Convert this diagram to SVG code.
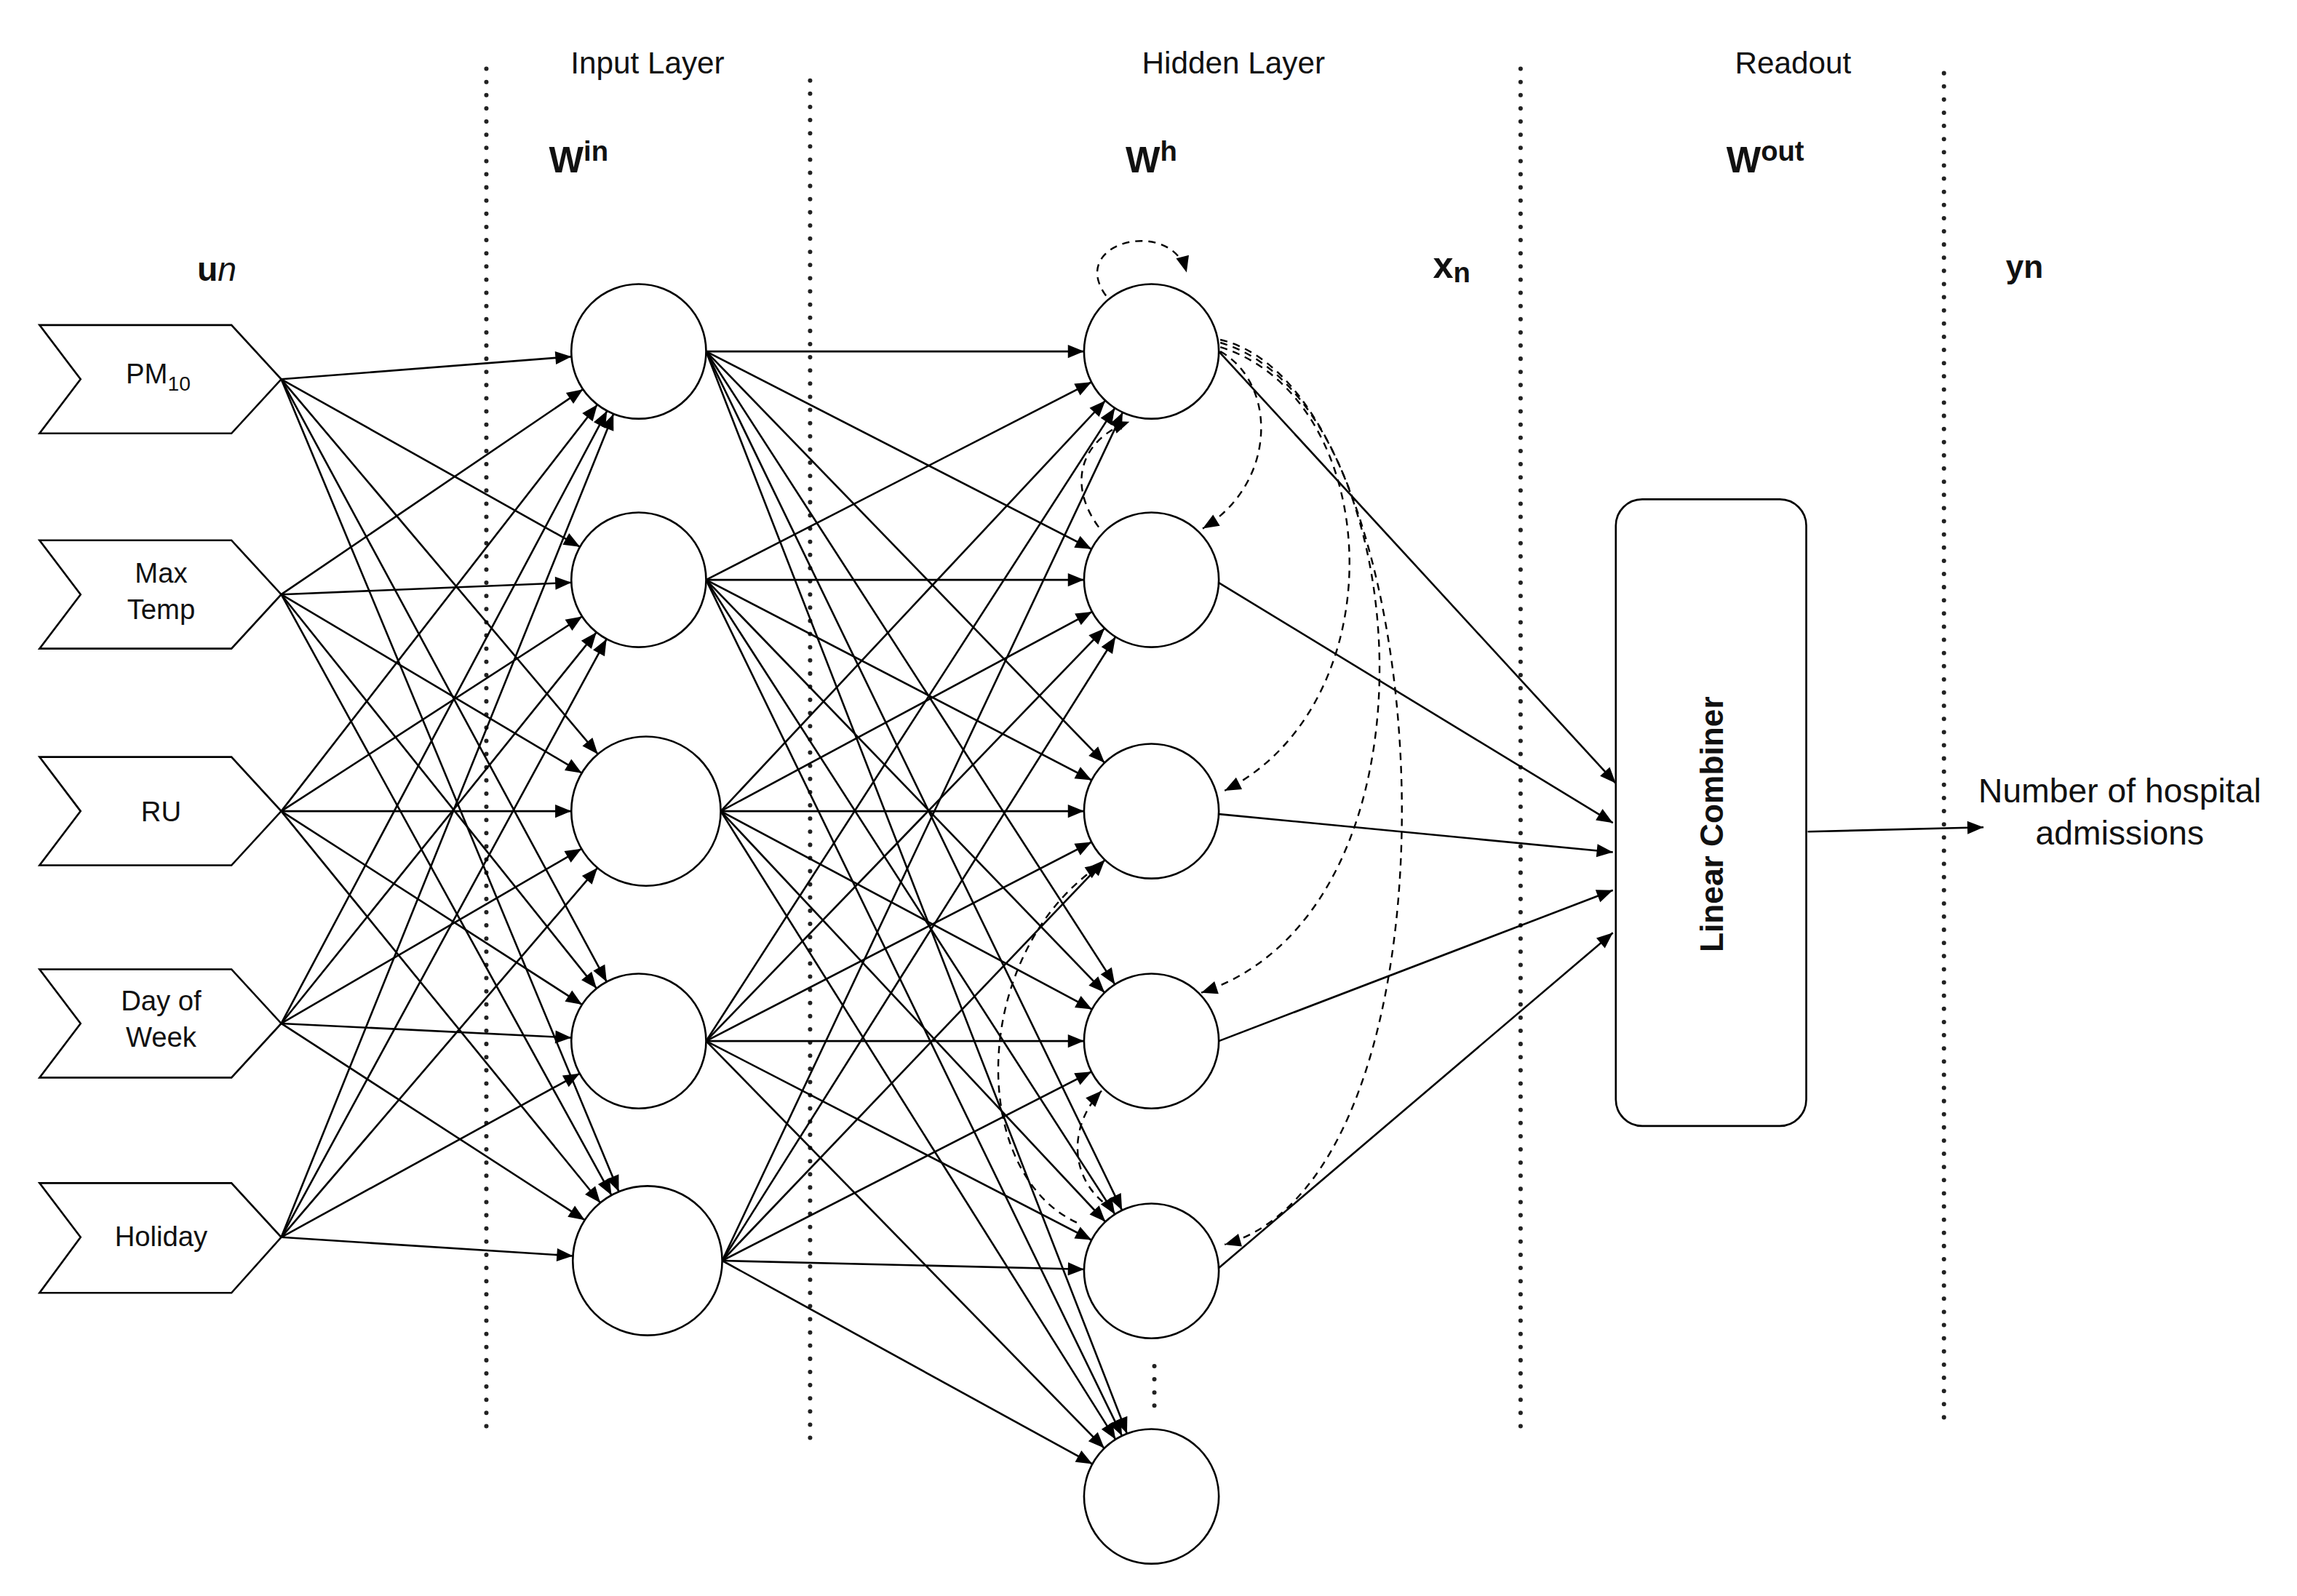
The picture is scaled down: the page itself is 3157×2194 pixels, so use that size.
<svg xmlns="http://www.w3.org/2000/svg" width="3157" height="2194" viewBox="0 0 3157 2194">
<defs>
<style>
.c{stroke:#000;stroke-width:1.3;fill:none}
.d{stroke:#000;stroke-width:1.2;fill:none;stroke-dasharray:5 4}
.v{stroke:#222;stroke-width:3;fill:none;stroke-dasharray:0 9;stroke-linecap:round}
.n{fill:#fff;stroke:#000;stroke-width:1.3}
.t{font-family:"Liberation Sans",Arial,sans-serif;fill:#111;text-anchor:middle}
.l .c{marker-end:url(#a46)}
.m .c{marker-end:url(#a51)}
</style>
<marker id="a46" markerUnits="userSpaceOnUse" overflow="visible" orient="auto" markerWidth="1" markerHeight="1" refX="0" refY="0"><path d="M-57,-4.5 L-46,0 L-57,4.5 Z" fill="#000"/></marker>
<marker id="a51" markerUnits="userSpaceOnUse" overflow="visible" orient="auto" markerWidth="1" markerHeight="1" refX="0" refY="0"><path d="M-62,-4.5 L-51,0 L-62,4.5 Z" fill="#000"/></marker>
<marker id="a0" markerUnits="userSpaceOnUse" overflow="visible" orient="auto" markerWidth="1" markerHeight="1" refX="0" refY="0"><path d="M-11,-4.5 L0,0 L-11,4.5 Z" fill="#000"/></marker>
</defs>
<rect width="3157" height="2194" fill="#fff"/>
<g transform="scale(2.0134,2.0128)">
<g id="separators">
<line class="v" x1="332" y1="47" x2="332" y2="975"/>
<line class="v" x1="553" y1="55" x2="553" y2="985"/>
<line class="v" x1="1038" y1="47" x2="1038" y2="975"/>
<line class="v" x1="1327" y1="50" x2="1327" y2="975"/>
<line class="v" x1="788" y1="933" x2="788" y2="966"/>
</g>
<g id="labels">
<text class="t" x="442" y="50" font-size="21">Input Layer</text>
<text class="t" x="842" y="50" font-size="21">Hidden Layer</text>
<text class="t" x="1224" y="50" font-size="21">Readout</text>
<text class="t" x="395" y="118" font-size="25" font-weight="bold">W<tspan font-size="19" dy="-8">in</tspan></text>
<text class="t" x="786" y="118" font-size="25" font-weight="bold">W<tspan font-size="19" dy="-8">h</tspan></text>
<text class="t" x="1205" y="118" font-size="25" font-weight="bold">W<tspan font-size="19" dy="-8">out</tspan></text>
<text class="t" x="148" y="192" font-size="23" font-weight="bold">u<tspan font-weight="normal" font-style="italic">n</tspan></text>
<text class="t" x="991" y="190" font-size="25" font-weight="bold">x<tspan font-size="19" dy="3">n</tspan></text>
<text class="t" x="1382" y="190" font-size="22" font-weight="bold">yn</text>
</g>
<g id="connectors">
<g class="l">
<path class="c" d="M192,259 L436,240"/><path class="c" d="M192,259 L436,396"/><path class="c" d="M192,259 L436,711"/>
<path class="c" d="M192,406 L436,240"/><path class="c" d="M192,406 L436,396"/><path class="c" d="M192,406 L436,711"/>
<path class="c" d="M192,554 L436,240"/><path class="c" d="M192,554 L436,396"/><path class="c" d="M192,554 L436,711"/>
<path class="c" d="M192,699 L436,240"/><path class="c" d="M192,699 L436,396"/><path class="c" d="M192,699 L436,711"/>
<path class="c" d="M192,845 L436,240"/><path class="c" d="M192,845 L436,396"/><path class="c" d="M192,845 L436,711"/>
</g>
<g class="m">
<path class="c" d="M192,259 L441,554"/><path class="c" d="M192,259 L442,861"/>
<path class="c" d="M192,406 L441,554"/><path class="c" d="M192,406 L442,861"/>
<path class="c" d="M192,554 L441,554"/><path class="c" d="M192,554 L442,861"/>
<path class="c" d="M192,699 L441,554"/><path class="c" d="M192,699 L442,861"/>
<path class="c" d="M192,845 L441,554"/><path class="c" d="M192,845 L442,861"/>
</g>
<g class="l">
<path class="c" d="M482,240 L786,240"/><path class="c" d="M482,240 L786,396"/><path class="c" d="M482,240 L786,554"/><path class="c" d="M482,240 L786,711"/><path class="c" d="M482,240 L786,868"/><path class="c" d="M482,240 L786,1022"/>
<path class="c" d="M482,396 L786,240"/><path class="c" d="M482,396 L786,396"/><path class="c" d="M482,396 L786,554"/><path class="c" d="M482,396 L786,711"/><path class="c" d="M482,396 L786,868"/><path class="c" d="M482,396 L786,1022"/>
<path class="c" d="M492,554 L786,240"/><path class="c" d="M492,554 L786,396"/><path class="c" d="M492,554 L786,554"/><path class="c" d="M492,554 L786,711"/><path class="c" d="M492,554 L786,868"/><path class="c" d="M492,554 L786,1022"/>
<path class="c" d="M482,711 L786,240"/><path class="c" d="M482,711 L786,396"/><path class="c" d="M482,711 L786,554"/><path class="c" d="M482,711 L786,711"/><path class="c" d="M482,711 L786,868"/><path class="c" d="M482,711 L786,1022"/>
<path class="c" d="M493,861 L786,240"/><path class="c" d="M493,861 L786,396"/><path class="c" d="M493,861 L786,554"/><path class="c" d="M493,861 L786,711"/><path class="c" d="M493,861 L786,868"/><path class="c" d="M493,861 L786,1022"/>
</g>
<g marker-end="url(#a0)">
<path class="c" d="M832,240 L1103,535"/>
<path class="c" d="M832,398 L1101,562"/>
<path class="c" d="M832,556 L1101,582"/>
<path class="c" d="M832,711 L1101,608"/>
<path class="c" d="M832,866 L1101,637"/>
<path class="c" d="M1234,568 L1354,565"/>
<path class="d" d="M755,202 C728,165 800,148 810,186"/>
<path class="d" d="M750,360 C728,330 738,300 771,288"/>
<path class="d" d="M833,240 C872,262 872,330 821,361"/>
<path class="d" d="M833,237 C945,272 955,480 836,540"/>
<path class="d" d="M833,234 C965,272 995,620 820,678"/>
<path class="d" d="M833,232 C985,268 1010,800 836,850"/>
<path class="d" d="M735,835 C660,800 662,650 752,590"/>
<path class="d" d="M760,826 C730,808 728,770 752,745"/>
</g>
</g>
<g id="inputs">
<g id="in-pm10"><polygon class="n" points="27,222 158,222 192,259 158,296 27,296 55,259"/><text class="t" x="108" y="262" font-size="19">PM<tspan font-size="14" dy="5">10</tspan></text></g>
<g id="in-maxtemp"><polygon class="n" points="27,369 158,369 192,406 158,443 27,443 55,406"/><text class="t" x="110" y="398" font-size="19">Max</text><text class="t" x="110" y="423" font-size="19">Temp</text></g>
<g id="in-ru"><polygon class="n" points="27,517 158,517 192,554 158,591 27,591 55,554"/><text class="t" x="110" y="561" font-size="19">RU</text></g>
<g id="in-dow"><polygon class="n" points="27,662 158,662 192,699 158,736 27,736 55,699"/><text class="t" x="110" y="690" font-size="19">Day of</text><text class="t" x="110" y="715" font-size="19">Week</text></g>
<g id="in-holiday"><polygon class="n" points="27,808 158,808 192,845 158,883 27,883 55,845"/><text class="t" x="110" y="851" font-size="19">Holiday</text></g>
</g>
<g id="input-layer">
<circle id="i1" class="n" cx="436" cy="240" r="46"/>
<circle id="i2" class="n" cx="436" cy="396" r="46"/>
<circle id="i3" class="n" cx="441" cy="554" r="51"/>
<circle id="i4" class="n" cx="436" cy="711" r="46"/>
<circle id="i5" class="n" cx="442" cy="861" r="51"/>
</g>
<g id="hidden-layer">
<circle id="h1" class="n" cx="786" cy="240" r="46"/>
<circle id="h2" class="n" cx="786" cy="396" r="46"/>
<circle id="h3" class="n" cx="786" cy="554" r="46"/>
<circle id="h4" class="n" cx="786" cy="711" r="46"/>
<circle id="h5" class="n" cx="786" cy="868" r="46"/>
<circle id="h6" class="n" cx="786" cy="1022" r="46"/>
</g>
<g id="combiner">
<rect class="n" x="1103" y="341" width="130" height="428" rx="18"/>
<text class="t" transform="translate(1176,563) rotate(-90)" font-size="22" font-weight="bold">Linear Combiner</text>
</g>
<g id="output">
<text class="t" x="1447" y="548" font-size="23">Number of hospital</text>
<text class="t" x="1447" y="577" font-size="23">admissions</text>
</g>
</g>
</svg>
